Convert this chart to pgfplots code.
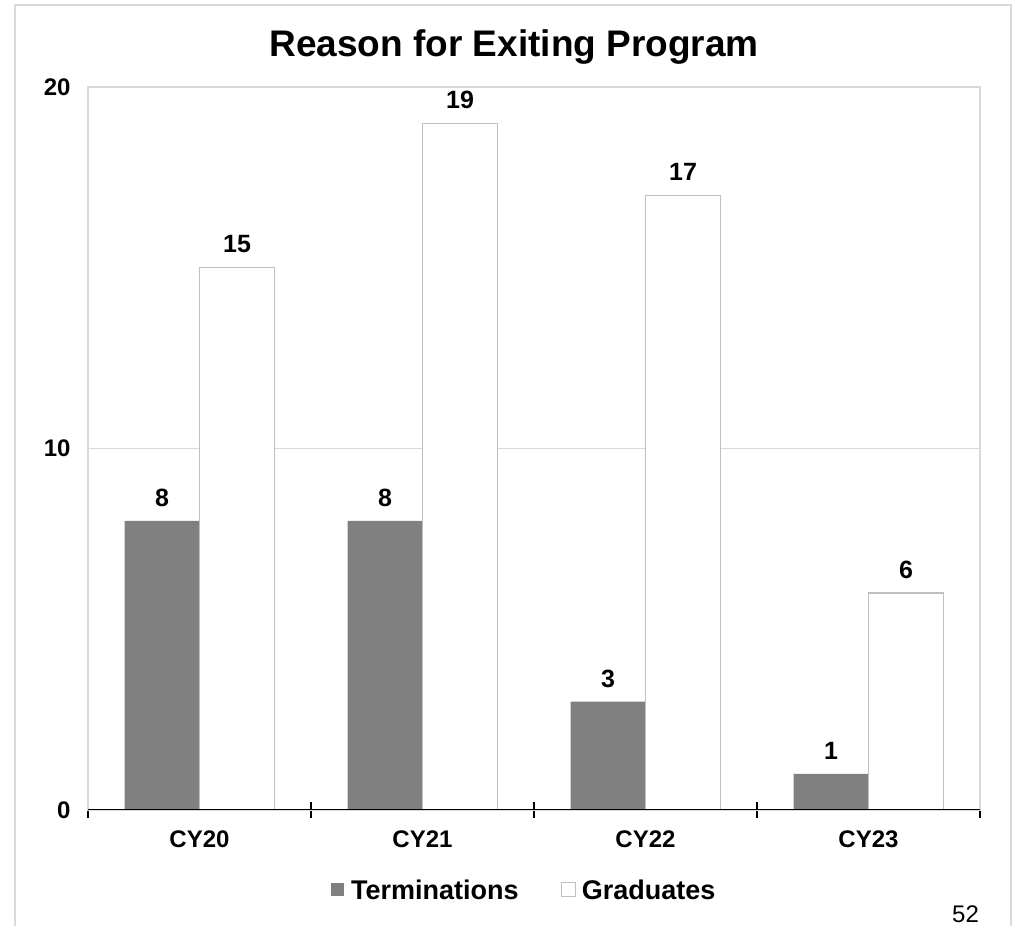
\documentclass[border=0pt]{standalone}
\usepackage{fontspec}
\setmainfont{Liberation Sans}
\usepackage{pgfplots}
\pgfplotsset{compat=1.18}
\definecolor{termgray}{HTML}{808080}
\definecolor{gradedge}{HTML}{BFBFBF}
\definecolor{framegray}{HTML}{D9D9D9}
\begin{document}
\begin{tikzpicture}[x=1bp,y=1bp]
\useasboundingbox (0,0) rectangle (1015,926);
\draw[framegray, line width=2bp] (15,0) -- (15,921) -- (1011,921) -- (1011,0);
\begin{axis}[
 at={(88bp,116bp)}, anchor=south west,
 scale only axis, width=892bp, height=723bp,
 xmin=-0.5, xmax=3.5, ymin=0, ymax=20,
 ybar=0pt, bar width=75bp,
 /pgf/number format/assume math mode=true,
 axis line style={framegray, line width=1.5bp},
 xtick={0,1,2,3}, xticklabels={CY20,CY21,CY22,CY23},
 minor xtick={-0.5,0.5,1.5,2.5,3.5},
 ytick={0,10,20},
 xtick pos=bottom, ytick pos=left,
 major tick length=0pt, minor tick length=16bp, tick align=center,
 minor x tick style={black, line width=1.5bp},
 ymajorgrids, grid style={framegray, line width=1.5bp},
 tick label style={font=\fontsize{24bp}{28bp}\selectfont\bfseries},
 yticklabel style={xshift=-14bp},
 xticklabel style={yshift=-17bp},
 title={Reason for Exiting Program},
 title style={at={(0.4776,1)}, anchor=base, yshift=25bp, font=\fontsize{37bp}{44bp}\selectfont\bfseries},
 nodes near coords,
 nodes near coords style={font=\fontsize{25bp}{30bp}\selectfont\bfseries, black, anchor=south, inner sep=0pt, yshift=14bp},
 legend style={at={(0.489,-0.111)}, anchor=center, draw=none, fill=none, legend columns=2,
   font=\fontsize{27bp}{32bp}\selectfont\bfseries,
   /tikz/every even column/.append style={column sep=40bp}},
]
\addplot[fill=termgray, draw=none,
  legend image code/.code={\draw[fill=termgray, draw=none] (0bp,-6bp) rectangle (13bp,7bp); \path (18bp,0bp);}]
  coordinates {(0,8) (1,8) (2,3) (3,1)};
\addlegendentry{Terminations}
\addplot[fill=white, draw=gradedge, line width=1.2bp,
  legend image code/.code={\draw[fill=white, draw=gradedge, line width=1.2bp] (0bp,-6bp) rectangle (14bp,8bp); \path (18bp,0bp);}]
  coordinates {(0,15) (1,19) (2,17) (3,6)};
\addlegendentry{Graduates}
\draw[black, line width=2bp] (axis cs:-0.5,0) -- (axis cs:3.5,0);
\end{axis}
\node[font=\fontsize{24bp}{28bp}\selectfont, anchor=base, inner sep=0pt] at (965.5,3) {52};
\end{tikzpicture}
\end{document}
